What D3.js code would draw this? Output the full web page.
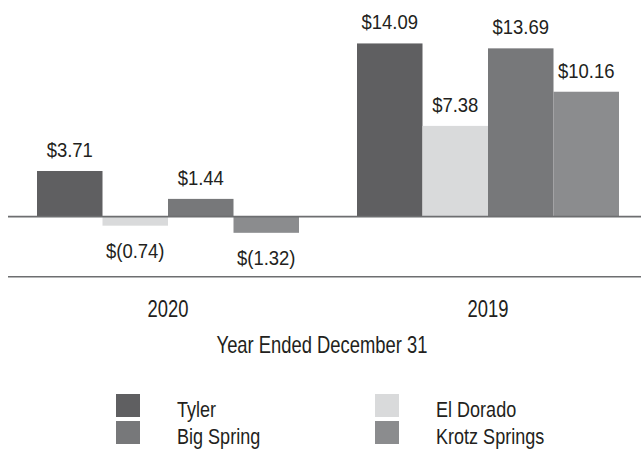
<!DOCTYPE html>
<html><head><meta charset="utf-8">
<script src="https://cdn.jsdelivr.net/npm/d3@7"></script>
<style>body{margin:0;background:#fff}svg{display:block}text{font-family:"Liberation Sans",Arial,sans-serif;fill:#231f20}</style>
</head><body><svg id="c" width="641" height="449"></svg>
<script>
const years = ["2020", "2019"];
const series = ["Tyler", "El Dorado", "Big Spring", "Krotz Springs"];
const tyler = [3.71, 14.09];
const elDorado = [-0.74, 7.38];
const bigSpring = [1.44, 13.69];
const krotzSprings = [-1.32, 10.16];
const colors = ["#5f5f61", "#d9dadb", "#77787a", "#8b8c8e"];
const axisTitle = "Year Ended December 31";

const values = [tyler, elDorado, bigSpring, krotzSprings];
const svg = d3.select("#c");
const x0 = d3.scaleBand().domain(years).range([8, 648]).paddingInner(58/320).paddingOuter(29/320);
const x1 = d3.scaleBand().domain(series).range([0, x0.bandwidth()]);
const y = d3.scaleLinear().domain([-4.9, 15.2]).range([276.8, 29.8]);
const fmt = v => v < 0 ? "$(" + Math.abs(v).toFixed(2) + ")" : "$" + v.toFixed(2);

const data = [];
years.forEach((yr, i) => series.forEach((s, j) => data.push({yr, s, v: values[j][i], c: colors[j]})));

// condensed text helper
function ctext(sel, x, yy, size, sx, anchor, str) {
  return sel.append("text")
    .attr("transform", `translate(${x},${yy}) scale(${sx},1)`)
    .attr("text-anchor", anchor).attr("font-size", size).text(str);
}

svg.selectAll("rect.bar").data(data).join("rect").attr("class","bar")
  .attr("x", d => x0(d.yr) + x1(d.s))
  .attr("width", x1.bandwidth())
  .attr("y", d => y(Math.max(0, d.v)))
  .attr("height", d => Math.abs(y(d.v) - y(0)))
  .attr("fill", d => d.c);

svg.append("line").attr("x1", 8).attr("x2", 641).attr("y1", y(0)).attr("y2", y(0)).attr("stroke", "#6d6e70").attr("stroke-width", 1.6);
svg.append("line").attr("x1", 8).attr("x2", 641).attr("y1", y.range()[0]).attr("y2", y.range()[0]).attr("stroke", "#6d6e70").attr("stroke-width", 1.6);

data.forEach(d => {
  const cx = x0(d.yr) + x1(d.s) + x1.bandwidth()/2;
  const cy = d.v >= 0 ? y(d.v) - 14 : y(d.v) + 32;
  ctext(svg, cx, cy, 21, 0.88, "middle", fmt(d.v));
});

years.forEach(yr => ctext(svg, x0(yr) + x0.bandwidth()/2, 316.5, 23, 0.8, "middle", yr));

ctext(svg, 322, 353, 23, 0.8, "middle", axisTitle);

series.forEach((s, j) => {
  const col = j % 2, row = Math.floor(j / 2);
  const lx = col === 0 ? 116 : 375, ly = 394 + row * 27;
  svg.append("rect").attr("x", lx).attr("y", ly).attr("width", 24).attr("height", 23).attr("fill", colors[j]);
  ctext(svg, lx + 61, ly + 22.5, 22, 0.82, "start", s);
});
</script></body></html>
